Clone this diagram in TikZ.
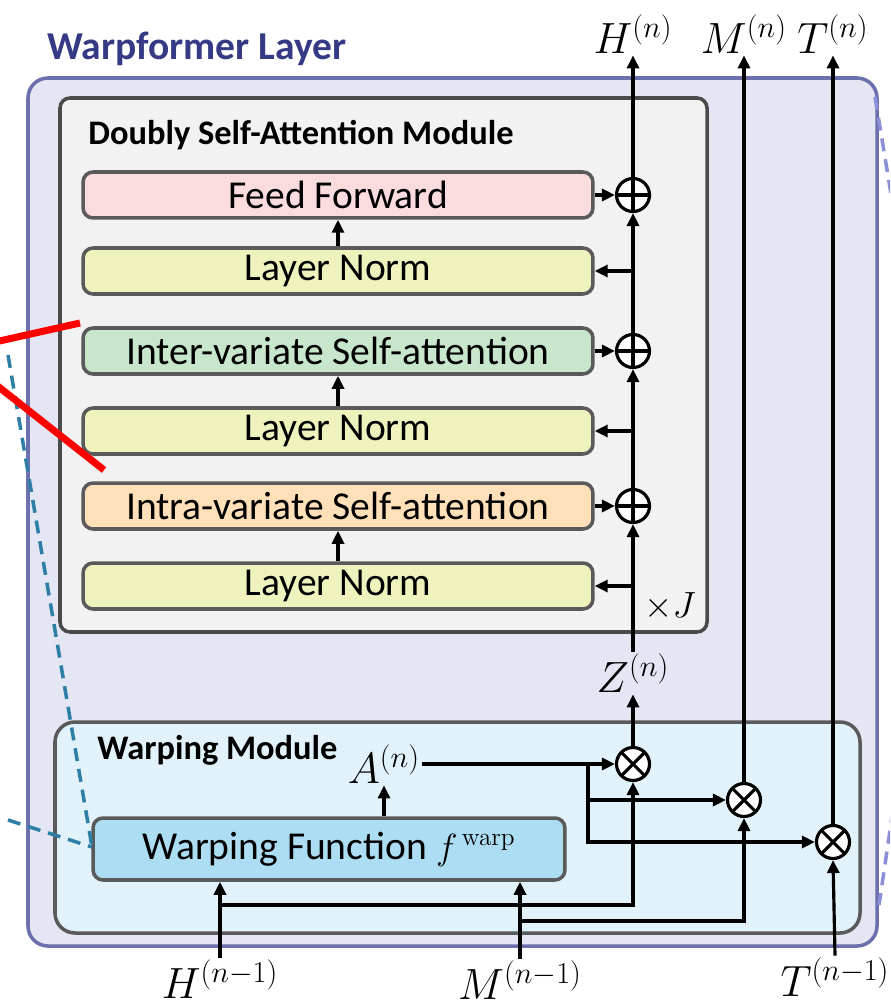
\documentclass[tikz,border=0pt]{standalone}
\usepackage[no-math]{fontspec}
\setmainfont{Carlito}
\usetikzlibrary{arrows.meta,calc}
\definecolor{layerfill}{HTML}{E4E6F4}
\definecolor{layerdraw}{HTML}{6D70AE}
\definecolor{layertitle}{HTML}{363A85}
\definecolor{dsafill}{HTML}{F2F2F2}
\definecolor{moddraw}{HTML}{4A4A4A}
\definecolor{boxdraw}{HTML}{5A5A5A}
\definecolor{fffill}{HTML}{FADCDE}
\definecolor{lnfill}{HTML}{F0F2BE}
\definecolor{interfill}{HTML}{C8E6CC}
\definecolor{intrafill}{HTML}{FFE0B8}
\definecolor{wmfill}{HTML}{E2F2FA}
\definecolor{wffill}{HTML}{ADDDF3}
\definecolor{zoomteal}{HTML}{2E7FA6}
\definecolor{zoomlav}{HTML}{8C90D8}
\begin{document}
\begin{tikzpicture}[x=0.02cm,y=-0.02cm,
  blk/.style={draw=boxdraw, line width=2pt, rounded corners=0.2cm,
    minimum width=10.2cm, minimum height=0.92cm, inner sep=0pt,
    font=\fontsize{22.5pt}{26pt}\selectfont},
  modtitle/.style={anchor=west, inner sep=0pt, font=\fontsize{19.6pt}{23pt}\selectfont\bfseries},
  lbl/.style={inner sep=1pt, font=\fontsize{24pt}{28pt}\selectfont},
  arr/.style={-{Triangle[length=0.26cm,width=0.24cm]}, line width=1.8pt},
  opnode/.style={circle, draw=black, fill=white, line width=1.8pt, minimum size=0.66cm, inner sep=0pt},
  oplus/.style={opnode, path picture={\draw[line width=1.8pt]
      (path picture bounding box.north) -- (path picture bounding box.south)
      (path picture bounding box.west) -- (path picture bounding box.east);}},
  otimes/.style={opnode, path picture={\draw[line width=1.8pt]
      (path picture bounding box.north west) -- (path picture bounding box.south east)
      (path picture bounding box.north east) -- (path picture bounding box.south west);}},
  guide/.style={line width=2pt, dash pattern=on 0.26cm off 0.16cm},
]
\useasboundingbox (0,0) rectangle (890,1006);
\clip (0,0) rectangle (890,1006);

% Warpformer layer frame
\node[anchor=west, inner sep=0pt, text=layertitle, font=\fontsize{22.5pt}{26pt}\selectfont\bfseries] (ltitle) at (47,49) {Warpformer Layer};
\draw[fill=layerfill, draw=layerdraw, line width=2pt, rounded corners=0.4cm] (28,78) rectangle (877,946);

% Doubly self-attention module
\draw[fill=dsafill, draw=moddraw, line width=2pt, rounded corners=0.2cm] (60,98) rectangle (707,632);
\node[modtitle] (dtitle) at (88,135) {Doubly Self-Attention Module};

\node[blk, fill=fffill]    (ff)    at (338,195) {Feed Forward};
\node[blk, fill=lnfill]    (ln1)   at (338,271) {Layer Norm};
\node[blk, fill=interfill] (inter) at (338,351) {Inter-variate Self-attention};
\node[blk, fill=lnfill]    (ln2)   at (338,431) {Layer Norm};
\node[blk, fill=intrafill] (intra) at (338,506) {Intra-variate Self-attention};
\node[blk, fill=lnfill]    (ln3)   at (338,586) {Layer Norm};

\node[oplus] (p1) at (633,195) {};
\node[oplus] (p2) at (633,351) {};
\node[oplus] (p3) at (633,506) {};

\node[inner sep=0pt, font=\fontsize{21pt}{25pt}\selectfont] (rep) at (670,607) {$\times J$};

% Warping module
\draw[fill=wmfill, draw=boxdraw, line width=2pt, rounded corners=0.4cm] (55,722) rectangle (860,933);
\node[modtitle] (wtitle) at (97,750) {Warping Module};
\node[draw=boxdraw, line width=2pt, rounded corners=0.2cm, fill=wffill,
  minimum width=9.44cm, minimum height=1.24cm, inner sep=0pt,
  font=\fontsize{22.5pt}{26pt}\selectfont] (wf) at (329,849) {Warping Function $f^{\,\mathrm{warp}}$};

\node[lbl] (an) at (384,764) {$A^{(n)}$};
\node[otimes] (o1) at (633,764) {};
\node[otimes] (o2) at (744,800) {};
\node[otimes] (o3) at (833,842) {};

% labels of inputs and outputs
\node[lbl] (zn)   at (633,673) {$Z^{(n)}$};
\node[lbl] (hout) at (633,34) {$H^{(n)}$};
\node[lbl] (mout) at (744,34) {$M^{(n)}$};
\node[lbl] (tout) at (833,34) {$T^{(n)}$};
\node[lbl] (hin)  at (220,979) {$H^{(n-1)}$};
\node[lbl] (min)  at (520,980) {$M^{(n-1)}$};
\node[lbl] (tin)  at (835,977) {$T^{(n-1)}$};

% stack of the attention module
\draw[arr] (ln1.north) -- (ff.south);
\draw[arr] (ln2.north) -- (inter.south);
\draw[arr] (ln3.north) -- (intra.south);
\draw[arr] (ff.east) -- (p1.west);
\draw[arr] (inter.east) -- (p2.west);
\draw[arr] (intra.east) -- (p3.west);
\draw[arr] (zn.north) -- (p3.south);
\draw[arr] (p3.north) -- (p2.south);
\draw[arr] (p2.north) -- (p1.south);
\draw[arr] (p1.north) -- (hout.south);
\draw[arr] (ln3.east -| p3.center) -- (ln3.east);
\draw[arr] (ln2.east -| p3.center) -- (ln2.east);
\draw[arr] (ln1.east -| p3.center) -- (ln1.east);

% warping connections
\draw[arr] (an.south |- wf.north) -- (an.south);
\coordinate (abr) at (588,764);
\draw[arr] (an.east) -- (o1.west);
\draw[arr] (abr) |- (o2.west);
\draw[arr] (abr) |- (o3.west);
\draw[arr] (o1.north) -- (zn.south);
\draw[arr] (o2.north) -- (mout.south);
\draw[arr] (o3.north) -- (tout.south);

\draw[arr] (hin.north) -- (hin.north |- wf.south);
\draw[arr] (min.north) -- (min.north |- wf.south);
\draw[arr] (tin.north) -- (o3.south);
\coordinate (hbr) at (220,905);
\coordinate (mbr) at (520,921);
\draw[arr] (hbr) -| (o1.south);
\draw[arr] (mbr) -| (o2.south);

% zoom guides
\draw[zoomteal, guide] (8,355) -- (92,847);
\draw[zoomteal, guide] (8,820) -- (92,847);
\draw[zoomlav, guide] (875,97) -- (892,200);
\draw[zoomlav, guide] (893,810) -- (879,905);
\draw[red, line width=4pt] (-5,342) -- (80,323);
\draw[red, line width=4pt] (-5,384) -- (104,470);
\end{tikzpicture}
\end{document}
